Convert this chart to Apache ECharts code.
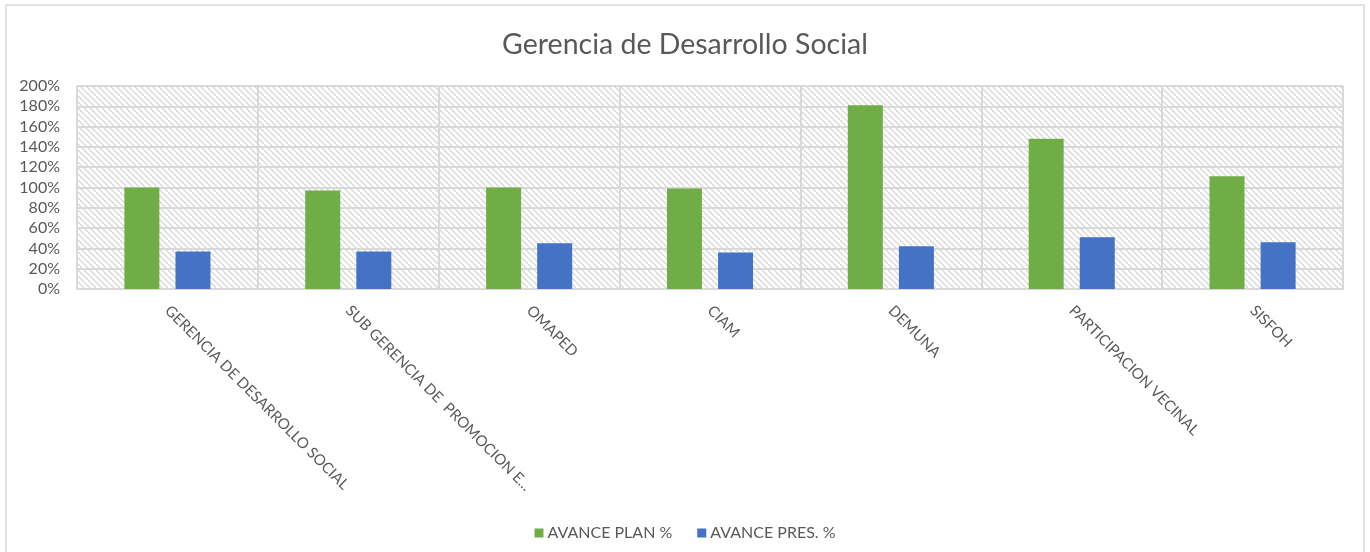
<!DOCTYPE html>
<html>
<head>
<meta charset="utf-8">
<title>Gerencia de Desarrollo Social</title>
<script src="https://cdn.jsdelivr.net/npm/echarts@6/dist/echarts.min.js"></script>
<style>
  html, body { margin: 0; padding: 0; background: #ffffff; }
  #chart { width: 1370px; height: 552px; }
</style>
</head>
<body>
<div id="chart"></div>
<script>
// Units of the Gerencia de Desarrollo Social
const categories = [
  'GERENCIA DE DESARROLLO SOCIAL',
  'SUB GERENCIA DE  PROMOCION E...',
  'OMAPED',
  'CIAM',
  'DEMUNA',
  'PARTICIPACION VECINAL',
  'SISFOH'
];

// Progress percentages per unit
const avancePlan = [100, 97, 100, 99, 181, 148, 111];
const avancePres = [37, 37, 45, 36, 42, 51, 46];

const seriesNames = ['AVANCE PLAN %', 'AVANCE PRES. %'];
const yTicks = { min: 0, max: 200, interval: 20 };

// Diagonal hatch used as the plot-area fill
function makeHatch() {
  const size = 6;
  const c = document.createElement('canvas');
  c.width = size; c.height = size;
  const ctx = c.getContext('2d');
  ctx.fillStyle = '#ffffff';
  ctx.fillRect(0, 0, size, size);
  ctx.strokeStyle = '#d6d6d6';
  ctx.lineWidth = 1.3;
  ctx.beginPath();
  for (let k = -1; k <= 1; k++) {
    ctx.moveTo(k * size, 0);
    ctx.lineTo(k * size + size, size);
  }
  ctx.stroke();
  return c;
}

const font = 'Lato, "Liberation Sans", sans-serif';
const textColor = '#595959';
const gridColor = '#d9d9d9';

const chart = echarts.init(document.getElementById('chart'), null, { renderer: 'canvas' });

chart.setOption({
  backgroundColor: '#ffffff',
  animation: false,
  title: {
    text: 'Gerencia de Desarrollo Social',
    left: 'center',
    top: 25,
    textStyle: { fontFamily: font, fontSize: 28.5, fontWeight: 'normal', color: textColor }
  },
  graphic: [{
    type: 'rect',
    shape: { x: 6, y: 5, width: 1358, height: 560 },
    style: { fill: 'none', stroke: gridColor, lineWidth: 1.5 },
    silent: true,
    z: -1
  }],
  legend: {
    data: seriesNames,
    left: 'center',
    top: 520,
    itemWidth: 9,
    itemHeight: 9,
    itemGap: 25,
    icon: 'rect',
    textStyle: { fontFamily: font, fontSize: 16, color: textColor, padding: [0, 0, 0, -1] }
  },
  grid: {
    left: 77,
    right: 27,
    top: 86,
    bottom: 263,
    show: true,
    backgroundColor: { image: makeHatch(), repeat: 'repeat' },
    borderWidth: 0,
    containLabel: false
  },
  xAxis: {
    type: 'category',
    data: categories,
    boundaryGap: true,
    axisLine: { show: true, lineStyle: { color: gridColor, width: 2 } },
    axisTick: { show: false },
    splitLine: { show: true, lineStyle: { color: gridColor, width: 2 } },
    axisLabel: {
      interval: 0,
      rotate: -45,
      margin: 19,
      fontFamily: font,
      fontSize: 15,
      color: textColor
    }
  },
  yAxis: {
    type: 'value',
    min: yTicks.min,
    max: yTicks.max,
    interval: yTicks.interval,
    axisLine: { show: false },
    axisTick: { show: false },
    splitLine: { show: true, lineStyle: { color: gridColor, width: 2 } },
    axisLabel: {
      formatter: '{value}%',
      margin: 17,
      fontFamily: font,
      fontSize: 16,
      color: textColor
    }
  },
  series: [
    {
      name: seriesNames[0],
      type: 'bar',
      data: avancePlan,
      barWidth: 35,
      barGap: '46%',
      itemStyle: { color: '#70AD47' }
    },
    {
      name: seriesNames[1],
      type: 'bar',
      data: avancePres,
      barWidth: 35,
      itemStyle: { color: '#4472C4' }
    }
  ]
});
</script>
</body>
</html>
